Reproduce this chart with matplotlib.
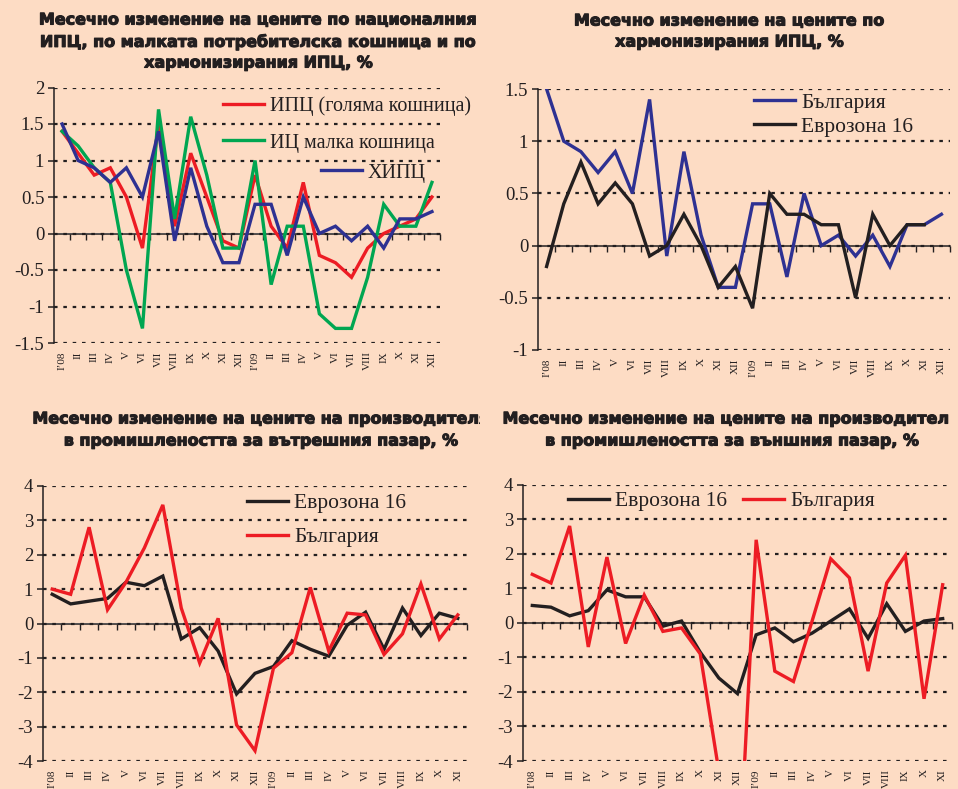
import matplotlib
matplotlib.use('Agg')
import matplotlib.pyplot as plt
import matplotlib.patheffects as pe
import numpy as np
from matplotlib.legend import Legend
from matplotlib.transforms import Bbox, TransformedBbox

W, H, DPI = 958, 789, 100
BG = '#FDDCC4'
RED = '#ED1C24'
GREEN = '#00A651'
BLUE = '#2E3192'
BLACK = '#231F20'
SERIF = 'Liberation Serif'
TITLE_FONT = 'DejaVu Sans'

# ---------------- data ----------------
months24 = ['I\u201908', 'II', 'III', 'IV', 'V', 'VI', 'VII', 'VIII', 'IX', 'X', 'XI', 'XII',
            'I\u201909', 'II', 'III', 'IV', 'V', 'VI', 'VII', 'VIII', 'IX', 'X', 'XI', 'XII']
months23 = months24[:23]

# Panel 1: national CPI, small basket, HICP
cpi_big = [1.4, 1.1, 0.8, 0.9, 0.5, -0.2, 1.5, 0.1, 1.1, 0.5, -0.1, -0.2,
           0.8, 0.1, -0.2, 0.7, -0.3, -0.4, -0.6, -0.2, 0.0, 0.1, 0.2, 0.5]
ic_small = [1.4, 1.2, 0.9, 0.7, -0.5, -1.3, 1.7, 0.2, 1.6, 0.8, -0.2, -0.2,
            1.0, -0.7, 0.1, 0.1, -1.1, -1.3, -1.3, -0.6, 0.4, 0.1, 0.1, 0.7]
hicp_bg = [1.5, 1.0, 0.9, 0.7, 0.9, 0.5, 1.4, -0.1, 0.9, 0.1, -0.4, -0.4,
           0.4, 0.4, -0.3, 0.5, 0.0, 0.1, -0.1, 0.1, -0.2, 0.2, 0.2, 0.3]
p1_labels = ['ИПЦ (голяма кошница)', 'ИЦ малка кошница', 'ХИПЦ']
p1_yticks = [2, 1.5, 1, 0.5, 0, -0.5, -1, -1.5]
p1_yticklabels = ['2', '1.5', '1', '0.5', '0', '-0.5', '-1', '-1.5']
p1_title = ['Месечно изменение на цените по националния',
            'ИПЦ, по малката потребителска кошница и по',
            'хармонизирания ИПЦ, %']

# Panel 2: HICP Bulgaria vs Euro area 16
hicp_bg2 = [1.5, 1.0, 0.9, 0.7, 0.9, 0.5, 1.4, -0.1, 0.9, 0.1, -0.4, -0.4,
            0.4, 0.4, -0.3, 0.5, 0.0, 0.1, -0.1, 0.1, -0.2, 0.2, 0.2, 0.3]
hicp_ez = [-0.2, 0.4, 0.8, 0.4, 0.6, 0.4, -0.1, 0.0, 0.3, 0.0, -0.4, -0.2,
           -0.6, 0.5, 0.3, 0.3, 0.2, 0.2, -0.5, 0.3, 0.0, 0.2, 0.2, np.nan]
p2_labels = ['България', 'Еврозона 16']
p2_yticks = [1.5, 1, 0.5, 0, -0.5, -1]
p2_yticklabels = ['1.5', '1', '0.5', '0', '-0.5', '-1']
p2_title = ['Месечно изменение на цените по',
            'хармонизирания ИПЦ, %']

# Panel 3: producer prices, domestic market
ppi_dom_ez = [0.85, 0.57, 0.65, 0.73, 1.2, 1.1, 1.38, -0.45, -0.12, -0.8, -2.05, -1.45,
              -1.25, -0.5, -0.75, -0.95, -0.05, 0.33, -0.75, 0.45, -0.35, 0.3, 0.15]
ppi_dom_bg = [1.0, 0.85, 2.8, 0.4, 1.2, 2.2, 3.45, 0.45, -1.15, 0.15, -2.95, -3.7,
              -1.3, -0.85, 1.05, -0.8, 0.3, 0.25, -0.9, -0.3, 1.15, -0.45, 0.25]
# Panel 4: producer prices, foreign market
ppi_ext_ez = [0.5, 0.45, 0.2, 0.35, 0.95, 0.75, 0.75, -0.1, 0.05, -0.85, -1.6, -2.05,
              -0.35, -0.15, -0.55, -0.3, 0.05, 0.4, -0.45, 0.55, -0.25, 0.05, 0.12]
ppi_ext_bg = [1.4, 1.15, 2.8, -0.7, 1.9, -0.6, 0.8, -0.25, -0.15, -0.9, -4.3, -8.0,
              2.4, -1.4, -1.7, 0.05, 1.85, 1.3, -1.4, 1.15, 1.95, -2.2, 1.1]
p34_labels = ['Еврозона 16', 'България']
p34_yticks = [4, 3, 2, 1, 0, -1, -2, -3, -4]
p34_yticklabels = ['4', '3', '2', '1', '0', '-1', '-2', '-3', '-4']
p3_title = ['Месечно изменение на цените на производителя',
            'в промишлеността за вътрешния пазар, %']
p4_title = ['Месечно изменение на цените на производител',
            'в промишлеността за външния пазар, %']

# ---------------- drawing ----------------
fig = plt.figure(figsize=(W / DPI, H / DPI), dpi=DPI, facecolor=BG)


def px_axes(x0, ytop, x1, ybot):
    ax = fig.add_axes([x0 / W, 1 - ybot / H, (x1 - x0) / W, (ybot - ytop) / H])
    ax.set_facecolor(BG)
    return ax


def style_axes(ax, xlabels, yticks, yticklabels):
    n = len(xlabels)
    x = np.arange(n)
    ymin, ymax = min(yticks), max(yticks)
    ax.set_xlim(-0.5, n - 0.5)
    ax.set_ylim(ymin, ymax)
    for s in ['top', 'right', 'bottom']:
        ax.spines[s].set_visible(False)
    ax.spines['left'].set_color(BLACK)
    ax.spines['left'].set_linewidth(1.1)
    ax.set_yticks(yticks)
    ax.set_yticklabels(yticklabels, fontfamily=SERIF, fontsize=13.5, color=BLACK)
    ax.tick_params(axis='y', direction='out', length=4, width=1.1, color=BLACK, pad=3)
    ax.set_xticks(x)
    ax.set_xticklabels(xlabels, rotation=90, fontfamily=SERIF, fontsize=8, color=BLACK)
    ax.tick_params(axis='x', length=0, pad=6)
    ax.grid(axis='y', color=BLACK, linestyle=(0, (1.6, 2.6)), linewidth=1.6, zorder=1)
    ax.set_axisbelow(True)
    # zero axis with category-boundary ticks
    frac0 = (0 - ymin) / (ymax - ymin)
    sec = ax.secondary_xaxis(frac0)
    sec.set_alignment('bottom')
    sec.set_xticks(np.arange(n) + 0.5)
    sec.tick_params(axis='x', direction='out', length=4, width=1.0, color=BLACK,
                    labelbottom=False, labeltop=False)
    sec.spines['bottom'].set_color(BLACK)
    sec.spines['bottom'].set_linewidth(1.1)
    return x


def add_leg(ax, line, label, xpx, ypx, size=15.5):
    leg = Legend(ax, [line], [label], loc='center left',
                 bbox_to_anchor=(xpx / W, 1 - ypx / H), bbox_transform=fig.transFigure,
                 frameon=False, borderpad=0, borderaxespad=0, handlelength=41 / (size * DPI / 72),
                 handletextpad=0.3, prop={'family': SERIF, 'size': size})
    for t in leg.get_texts():
        t.set_color(BLACK)
    ax.add_artist(leg)


def title_text(line, xc, y, clip_x=None):
    t = fig.text(xc / W, 1 - y / H, line, ha='center', va='center',
                 fontfamily=TITLE_FONT, fontweight='bold', fontsize=11.5, color=BLACK,
                 path_effects=[pe.withStroke(linewidth=0.8, foreground=BLACK)])
    if clip_x is not None:
        t.set_clip_box(TransformedBbox(Bbox.from_extents(clip_x[0] / W, 0, clip_x[1] / W, 1),
                                       fig.transFigure))
        t.set_clip_on(True)


def add_title(lines, xc, ys, clip_x=None):
    for line, y in zip(lines, ys):
        title_text(line, xc, y, clip_x)


LW = 2.4
kw = dict(linewidth=LW, solid_joinstyle='miter', zorder=3)

# Panel 1
ax1 = px_axes(54, 87.5, 440, 343)
x = style_axes(ax1, months24, p1_yticks, p1_yticklabels)
l1, = ax1.plot(x, cpi_big, color=RED, **kw)
l2, = ax1.plot(x, ic_small, color=GREEN, **kw)
l3, = ax1.plot(x, hicp_bg, color=BLUE, **kw)
add_leg(ax1, l1, p1_labels[0], 223, 106, 14.5)
add_leg(ax1, l2, p1_labels[1], 223, 143, 14.5)
add_leg(ax1, l3, p1_labels[2], 321, 173, 14.5)
add_title(p1_title, 259, [20, 42, 63])

# Panel 2
ax2 = px_axes(538, 89, 950, 350)
x = style_axes(ax2, months24, p2_yticks, p2_yticklabels)
b2, = ax2.plot(x, hicp_bg2, color=BLUE, **kw)
e2, = ax2.plot(x, hicp_ez, color=BLACK, **kw)
add_leg(ax2, b2, p2_labels[0], 754, 103)
add_leg(ax2, e2, p2_labels[1], 754, 127)
add_title(p2_title, 730, [21, 42])

# Panel 3
ax3 = px_axes(43, 486, 467, 761)
x = style_axes(ax3, months23, p34_yticks, p34_yticklabels)
e3, = ax3.plot(x, ppi_dom_ez, color=BLACK, **kw)
b3, = ax3.plot(x, ppi_dom_bg, color=RED, **kw)
add_leg(ax3, e3, p34_labels[0], 247, 503)
add_leg(ax3, b3, p34_labels[1], 247, 537)
add_title(p3_title, 262, [419, 441], clip_x=(0, 480))

# Panel 4
ax4 = px_axes(523, 484.5, 952, 761)
x = style_axes(ax4, months23, p34_yticks, p34_yticklabels)
e4, = ax4.plot(x, ppi_ext_ez, color=BLACK, **kw)
b4, = ax4.plot(x, ppi_ext_bg, color=RED, **kw)
add_leg(ax4, e4, p34_labels[0], 568, 501)
add_leg(ax4, b4, p34_labels[1], 743, 501)
title_text(p4_title[0], 727, 419)
title_text(p4_title[1], 733, 441)

fig.savefig('out.png', dpi=DPI, facecolor=BG)
